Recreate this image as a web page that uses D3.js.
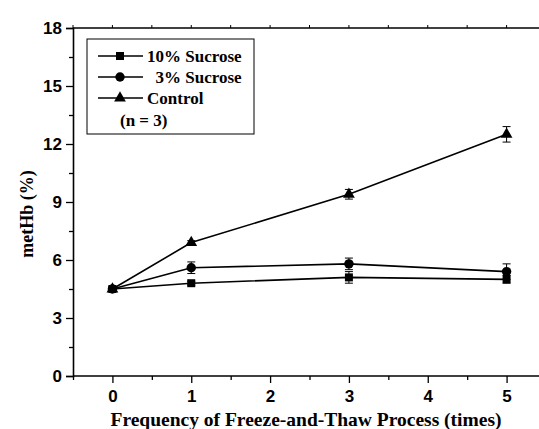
<!DOCTYPE html>
<html>
<head>
<meta charset="utf-8">
<script src="https://cdn.jsdelivr.net/npm/d3@7"></script>
<style>
  body { margin: 0; background: #fff; }
  svg { display: block; }
</style>
</head>
<body>
<svg id="chart" width="539" height="429"></svg>
<script>
// data
const cycles = [0, 1, 3, 5];
const sucrose10 = [4.5, 4.8, 5.1, 5.0];
const sucrose10Err = [0.1, 0.1, 0.3, 0.2];
const sucrose3 = [4.5, 5.6, 5.8, 5.4];
const sucrose3Err = [0.1, 0.3, 0.3, 0.4];
const control = [4.5, 6.9, 9.4, 12.5];
const controlErr = [0.1, 0.1, 0.25, 0.4];
const yTicks = [0, 3, 6, 9, 12, 15, 18];
const xTicks = [0, 1, 2, 3, 4, 5];

const series = [
  { name: '10% Sucrose', values: sucrose10, err: sucrose10Err, symbol: d3.symbolSquare, size: 64 },
  { name: '  3% Sucrose', values: sucrose3, err: sucrose3Err, symbol: d3.symbolCircle, size: 70 },
  { name: 'Control', values: control, err: controlErr, symbol: d3.symbolTriangle, size: 60 }
];

const svg = d3.select('#chart');
const plotLeft = 73, plotTop = 28, plotRight = 546, plotBottom = 376;

const x = d3.scaleLinear().domain([-0.5, 5.5]).range([plotLeft, plotRight]);
const y = d3.scaleLinear().domain([0, 18]).range([plotBottom, plotTop]);

const sansBold = 'Arial, "Liberation Sans", sans-serif';
const serifBold = '"Times New Roman", "Liberation Serif", serif';

// frame: top and right lines
svg.append('line')
  .attr('x1', plotLeft).attr('x2', plotRight).attr('y1', plotTop).attr('y2', plotTop)
  .attr('stroke', '#000').attr('stroke-width', 1.3);
svg.append('line')
  .attr('x1', plotRight).attr('x2', plotRight).attr('y1', plotTop).attr('y2', plotBottom)
  .attr('stroke', '#000').attr('stroke-width', 1.3);

// top minor ticks
const halfTicks = d3.range(-0.5, 5.51, 0.5);
svg.append('g').selectAll('line').data(halfTicks).join('line')
  .attr('x1', d => x(d)).attr('x2', d => x(d))
  .attr('y1', plotTop).attr('y2', plotTop - 3)
  .attr('stroke', '#000').attr('stroke-width', 1);

// x axis
const xAxis = svg.append('g')
  .attr('transform', `translate(0,${plotBottom})`)
  .call(d3.axisBottom(x).tickValues(xTicks).tickSize(7).tickPadding(7).tickFormat(d3.format('d')));
svg.append('g')
  .attr('transform', `translate(0,${plotBottom})`)
  .call(d3.axisBottom(x).tickValues(d3.range(-0.5, 5.51, 1)).tickSize(4).tickFormat(''))
  .call(g => g.select('.domain').remove());

// y axis
const yAxis = svg.append('g')
  .attr('transform', `translate(${plotLeft},0)`)
  .call(d3.axisLeft(y).tickValues(yTicks).tickSize(7).tickPadding(4));
svg.append('g')
  .attr('transform', `translate(${plotLeft},0)`)
  .call(d3.axisLeft(y).tickValues(d3.range(1.5, 18, 3)).tickSize(4).tickFormat(''))
  .call(g => g.select('.domain').remove());

svg.selectAll('.domain').attr('stroke-width', 1.6).attr('stroke', '#000');
svg.selectAll('.tick line').attr('stroke', '#000').attr('stroke-width', 1.3);
[xAxis, yAxis].forEach(a => a.selectAll('text')
  .attr('font-family', sansBold).attr('font-weight', 'bold')
  .attr('font-size', 17).attr('fill', '#000'));
xAxis.selectAll('.domain').attr('d', `M${plotLeft},0H${plotRight}`);

// lines, error bars, markers
const line = d3.line().x((d, i) => x(cycles[i])).y(d => y(d));

series.forEach(s => {
  svg.append('path')
    .datum(s.values)
    .attr('d', line)
    .attr('fill', 'none')
    .attr('stroke', '#000')
    .attr('stroke-width', 1.6);

  const eb = svg.append('g').selectAll('g').data(s.values).join('g');
  eb.append('line')
    .attr('x1', (d, i) => x(cycles[i])).attr('x2', (d, i) => x(cycles[i]))
    .attr('y1', (d, i) => y(d - s.err[i])).attr('y2', (d, i) => y(d + s.err[i]))
    .attr('stroke', '#000').attr('stroke-width', 1);
  [-1, 1].forEach(sign => {
    eb.append('line')
      .attr('x1', (d, i) => x(cycles[i]) - 4).attr('x2', (d, i) => x(cycles[i]) + 4)
      .attr('y1', (d, i) => y(d + sign * s.err[i])).attr('y2', (d, i) => y(d + sign * s.err[i]))
      .attr('stroke', '#000').attr('stroke-width', 1);
  });

  svg.append('g').selectAll('path').data(s.values).join('path')
    .attr('d', d3.symbol().type(s.symbol).size(s.size))
    .attr('transform', (d, i) => `translate(${x(cycles[i])},${y(d)})`)
    .attr('fill', '#000');
});

// legend
const legend = svg.append('g');
legend.append('rect')
  .attr('x', 87).attr('y', 39).attr('width', 167).attr('height', 95)
  .attr('fill', '#fff').attr('stroke', '#000').attr('stroke-width', 1);
const rows = [56, 77, 98];
series.forEach((s, i) => {
  legend.append('line')
    .attr('x1', 98).attr('x2', 143).attr('y1', rows[i]).attr('y2', rows[i])
    .attr('stroke', '#000').attr('stroke-width', 1.6);
  legend.append('path')
    .attr('d', d3.symbol().type(s.symbol).size(s.size)())
    .attr('transform', `translate(120,${rows[i]})`)
    .attr('fill', '#000');
  legend.append('text')
    .attr('x', 147).attr('y', rows[i]).attr('dy', '0.35em')
    .style('white-space', 'pre')
    .attr('font-family', serifBold).attr('font-weight', 'bold').attr('font-size', 17)
    .text(s.name);
});
legend.append('text')
  .attr('x', 120).attr('y', 120).attr('dy', '0.35em')
  .attr('font-family', serifBold).attr('font-weight', 'bold').attr('font-size', 17)
  .text('(n = 3)');

// axis titles
svg.append('text')
  .attr('transform', 'translate(33,214) rotate(-90)')
  .attr('text-anchor', 'middle')
  .attr('font-family', serifBold).attr('font-weight', 'bold').attr('font-size', 18)
  .text('metHb (%)');
svg.append('text')
  .attr('x', 306).attr('y', 426)
  .attr('text-anchor', 'middle')
  .attr('font-family', serifBold).attr('font-weight', 'bold').attr('font-size', 19.5)
  .text('Frequency of Freeze-and-Thaw Process (times)');
</script>
</body>
</html>
